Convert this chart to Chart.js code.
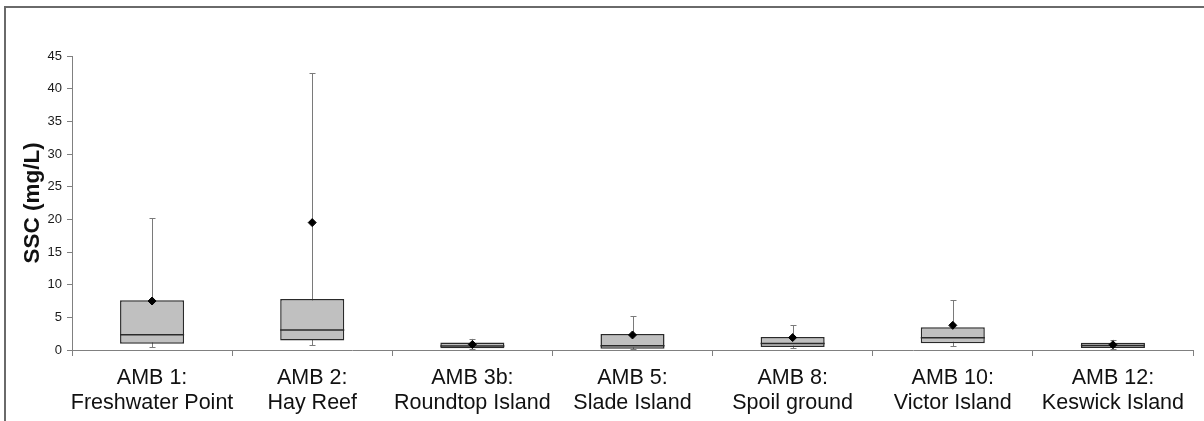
<!DOCTYPE html>
<html>
<head>
<meta charset="utf-8">
<script src="https://cdn.jsdelivr.net/npm/chart.js@4/dist/chart.umd.min.js"></script>
<style>
  html, body { margin: 0; padding: 0; background: #fff; overflow: hidden; }
  #wrap { position: relative; width: 1204px; height: 421px; }
  #frame {
    position: absolute; left: 4px; top: 6px; width: 1400px; height: 600px;
    border-top: 2px solid #6a6a6a; border-left: 2px solid #6a6a6a;
    pointer-events: none;
  }
  canvas { position: absolute; left: 0; top: 0; }
</style>
</head>
<body>
<div id="wrap">
  <div id="frame"></div>
  <canvas id="chart" width="1204" height="421"></canvas>
</div>
<script>
// Sampling sites
const sites = [
  ['AMB 1:', 'Freshwater Point'],
  ['AMB 2:', 'Hay Reef'],
  ['AMB 3b:', 'Roundtop Island'],
  ['AMB 5:', 'Slade Island'],
  ['AMB 8:', 'Spoil ground'],
  ['AMB 10:', 'Victor Island'],
  ['AMB 12:', 'Keswick Island']
];

// Suspended sediment concentration summary (mg/L)
const sscMin    = [0.4, 0.7, 0.1, 0.1, 0.26, 0.56, 0.2];
const sscQ1     = [0.95, 1.45, 0.25, 0.2, 0.46, 1.02, 0.3];
const sscMedian = [2.35, 3.05, 0.6, 0.66, 1.0, 1.88, 0.7];
const sscQ3     = [7.6, 7.8, 1.15, 2.45, 1.99, 3.5, 1.1];
const sscMax    = [20.2, 42.4, 1.7, 5.15, 3.8, 7.65, 1.55];
const sscMean   = [7.5, 19.5, 0.85, 2.3, 1.9, 3.77, 0.8];

// Y axis ticks
const yTicks = [0, 5, 10, 15, 20, 25, 30, 35, 40, 45];

const FONT = '"Liberation Sans", Arial, Helvetica, sans-serif';

// Whiskers behind the boxes, medians drawn right after the boxes
const boxPlotParts = {
  id: 'boxPlotParts',
  beforeDatasetsDraw(chart) {
    const { ctx, scales: { x, y } } = chart;
    ctx.save();
    ctx.strokeStyle = '#7a7a7a';
    ctx.lineWidth = 1;
    for (let i = 0; i < sites.length; i++) {
      const px = Math.round(x.getPixelForValue(i)) + 0.5;
      const top = y.getPixelForValue(sscMax[i]);
      const bot = y.getPixelForValue(sscMin[i]);
      ctx.beginPath();
      ctx.moveTo(px, top);
      ctx.lineTo(px, bot);
      ctx.moveTo(px - 3, Math.round(top) + 0.5);
      ctx.lineTo(px + 3, Math.round(top) + 0.5);
      ctx.moveTo(px - 3, Math.round(bot) + 0.5);
      ctx.lineTo(px + 3, Math.round(bot) + 0.5);
      ctx.stroke();
    }
    ctx.restore();
  },
  afterDatasetDraw(chart, args) {
    if (args.meta.type !== 'bar') return;
    const { ctx, scales: { y } } = chart;
    ctx.save();
    ctx.strokeStyle = '#2a2a2a';
    ctx.lineWidth = 1.5;
    args.meta.data.forEach((bar, i) => {
      const py = y.getPixelForValue(sscMedian[i]);
      ctx.beginPath();
      ctx.moveTo(bar.x - bar.width / 2, py);
      ctx.lineTo(bar.x + bar.width / 2, py);
      ctx.stroke();
    });
    ctx.restore();
  }
};

new Chart(document.getElementById('chart'), {
  data: {
    labels: sites,
    datasets: [
      {
        type: 'line',
        label: 'Mean',
        data: sscMean,
        showLine: false,
        pointStyle: 'rectRot',
        pointRadius: 4,
        backgroundColor: '#000',
        borderColor: '#000',
        borderWidth: 1,
        order: 0
      },
      {
        type: 'bar',
        label: 'Interquartile range',
        data: sscQ1.map((q, i) => [q, sscQ3[i]]),
        backgroundColor: '#c0c0c0',
        borderColor: '#2a2a2a',
        borderWidth: 1.5,
        borderSkipped: false,
        barPercentage: 0.4,
        categoryPercentage: 1,
        order: 1
      }
    ]
  },
  options: {
    responsive: false,
    devicePixelRatio: 1,
    animation: false,
    layout: { padding: { left: 0, top: 56, right: 11, bottom: 0 } },
    plugins: { legend: { display: false }, tooltip: { enabled: false } },
    scales: {
      x: {
        type: 'category',
        offset: true,
        grid: { offset: true, drawOnChartArea: false, drawTicks: true, tickLength: 6, color: '#808080' },
        border: { display: true, color: '#808080', width: 1 },
        ticks: {
          color: '#111',
          font: { family: FONT, size: 21.5, lineHeight: 1.16 },
          padding: 10,
          maxRotation: 0,
          autoSkip: false
        },
        afterFit(scale) { scale.height = 71; }
      },
      y: {
        min: 0,
        max: 45,
        afterBuildTicks(scale) { scale.ticks = yTicks.map(v => ({ value: v })); },
        grid: { drawOnChartArea: false, drawTicks: true, tickLength: 5, color: '#808080' },
        border: { display: true, color: '#808080', width: 1 },
        ticks: {
          color: '#1a1a1a',
          font: { family: FONT, size: 13 },
          padding: 5
        },
        title: {
          display: true,
          text: 'SSC (mg/L)',
          color: '#111',
          font: { family: FONT, size: 22.5, weight: 'bold' },
          padding: { top: 19, bottom: 0 }
        },
        afterFit(scale) { scale.width = 72; }
      }
    }
  },
  plugins: [boxPlotParts]
});
</script>
</body>
</html>
